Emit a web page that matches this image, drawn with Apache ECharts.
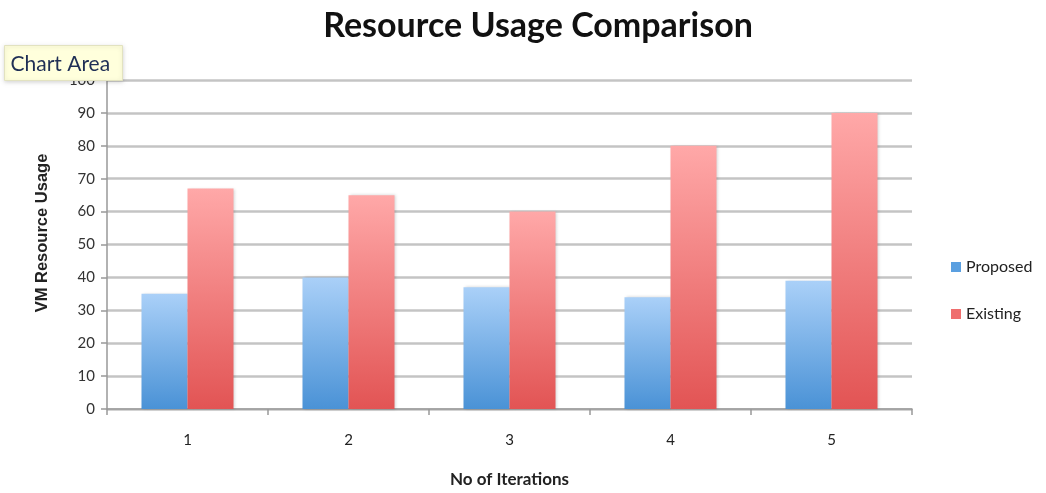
<!DOCTYPE html>
<html>
<head>
<meta charset="utf-8">
<script src="https://cdn.jsdelivr.net/npm/echarts@6/dist/echarts.min.js"></script>
<style>
  html, body { margin: 0; padding: 0; background: #fff; }
  #chart { width: 1046px; height: 493px; }
</style>
</head>
<body>
<div id="chart"></div>
<script>
// Iteration labels and VM resource usage per approach
const iterations = ['1', '2', '3', '4', '5'];
const proposed = [35, 40, 37, 34, 39];
const existing = [67, 65, 60, 80, 90];
const yTicks = { min: 0, max: 100, interval: 10 };

const chart = echarts.init(document.getElementById('chart'));

function vGrad(top, bottom) {
  return new echarts.graphic.LinearGradient(0, 0, 0, 1, [
    { offset: 0, color: top },
    { offset: 1, color: bottom }
  ]);
}

chart.setOption({
  animation: false,
  backgroundColor: '#ffffff',
  title: {
    text: 'Resource Usage Comparison',
    left: 533,
    textAlign: 'center',
    top: 4,
    textStyle: { fontFamily: 'Lato', fontWeight: 'bold', fontSize: 34, color: '#111' }
  },
  legend: {
    orient: 'vertical',
    left: 946,
    top: 254,
    itemWidth: 10,
    itemHeight: 10,
    itemGap: 31,
    icon: 'rect',
    textStyle: { fontFamily: 'Lato', fontSize: 16, color: '#222' },
    data: [
      { name: 'Proposed', itemStyle: { color: '#5a9fe0' } },
      { name: 'Existing', itemStyle: { color: '#ef6e6e' } }
    ]
  },
  grid: { left: 107, right: 134, top: 80, bottom: 83, containLabel: false },
  xAxis: {
    type: 'category',
    data: iterations,
    name: 'No of Iterations',
    nameLocation: 'middle',
    nameGap: 62,
    nameTextStyle: { fontFamily: 'Lato', fontWeight: 'bold', fontSize: 17, color: '#222' },
    axisLine: { lineStyle: { color: '#999', width: 1.5 } },
    axisTick: { show: true, length: 6, lineStyle: { color: '#999', width: 1.5 } },
    axisLabel: { fontFamily: 'Lato', fontSize: 15, color: '#222', margin: 24 }
  },
  yAxis: {
    type: 'value',
    min: yTicks.min,
    max: yTicks.max,
    interval: yTicks.interval,
    axisLine: { show: true, lineStyle: { color: '#999', width: 1.5 } },
    axisTick: { show: true, length: 6, lineStyle: { color: '#999', width: 1.5 } },
    axisLabel: { fontFamily: 'Lato', fontSize: 15, color: '#333', margin: 12 },
    splitLine: { lineStyle: { color: '#c4c4c4', width: 2.5 } }
  },
  series: [
    {
      name: 'Proposed',
      type: 'bar',
      data: proposed,
      barWidth: 46,
      barGap: '0%',
      itemStyle: {
        color: vGrad('#aad0f8', '#4a92d6'),
        shadowColor: 'rgba(0,0,0,0.18)',
        shadowBlur: 3,
        shadowOffsetX: 1
      }
    },
    {
      name: 'Existing',
      type: 'bar',
      data: existing,
      barWidth: 46,
      barGap: '0%',
      itemStyle: {
        color: vGrad('#ffa8a8', '#e25454'),
        shadowColor: 'rgba(0,0,0,0.18)',
        shadowBlur: 3,
        shadowOffsetX: 1
      }
    }
  ],
  graphic: [
    // y-axis title, rotated
    {
      type: 'text',
      x: 42,
      y: 233,
      rotation: Math.PI / 2,
      z: 50,
      style: {
        text: 'VM Resource Usage',
        fontFamily: 'Liberation Sans',
        fontWeight: 'bold',
        fontSize: 16.5,
        fill: '#222',
        textAlign: 'center',
        textVerticalAlign: 'middle'
      }
    },
    // hover hint box in the top-left corner
    {
      type: 'group',
      left: 4,
      top: 45,
      z: 100,
      children: [
        {
          type: 'rect',
          z: 100,
          shape: { x: 0, y: 0, width: 118, height: 35 },
          style: { fill: '#ffffdc', stroke: '#e2e2c0', lineWidth: 1, shadowColor: 'rgba(0,0,0,0.15)', shadowBlur: 4, shadowOffsetY: 1 }
        },
        {
          type: 'text',
          z: 101,
          style: { x: 6, y: 19, text: 'Chart Area', fontFamily: 'Lato', fontSize: 21, fill: '#1f2f55', textVerticalAlign: 'middle' }
        }
      ]
    }
  ]
});
</script>
</body>
</html>
